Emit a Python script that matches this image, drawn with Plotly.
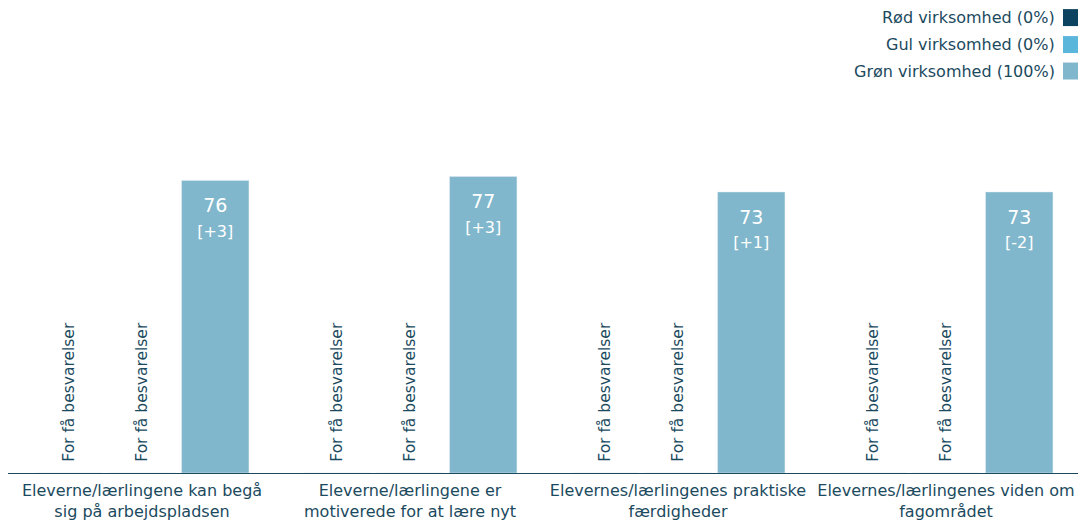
import plotly.graph_objects as go

categories = [
    "Eleverne/lærlingene kan begå<br>sig på arbejdspladsen",
    "Eleverne/lærlingene er<br>motiverede for at lære nyt",
    "Elevernes/lærlingenes praktiske<br>færdigheder",
    "Elevernes/lærlingenes viden om<br>fagområdet",
]
series_names = ["Rød virksomhed (0%)", "Gul virksomhed (0%)", "Grøn virksomhed (100%)"]
red_values = [0, 0, 0, 0]
yellow_values = [0, 0, 0, 0]
green_values = [76, 77, 73, 73]
green_changes = ["+3", "+3", "+1", "-2"]
no_data_label = "For få besvarelser"

colors = ["#0b4360", "#5bb6dc", "#80b7cc"]
text_color = "#1b4a5e"
FONT = "DejaVu Sans"

# page body has an 8px margin: figure origin sits at screen (8, 8)
OFF = 8
W, H = 1086 - OFF, 527 - OFF
L, R = 8 - OFF, 1086 - 1080
T = 87.5 - OFF
B = 527 - 473
PW, PH = W - L - R, H - T - B

fig = go.Figure()
for name, vals, col in [(series_names[0], red_values, colors[0]),
                        (series_names[1], yellow_values, colors[1])]:
    fig.add_trace(go.Bar(
        x=categories, y=vals, name=name, marker_color=col,
        text=["<span style='font-size:13px'>&nbsp;&nbsp;</span>" + no_data_label] * len(vals),
        textposition="outside",
        textangle=-90, cliponaxis=False, constraintext="none",
        outsidetextfont=dict(family=FONT, size=15.5, color=text_color),
        showlegend=False, hoverinfo="skip",
    ))

fig.add_trace(go.Bar(
    x=categories, y=green_values, name=series_names[2], marker_color=colors[2],
    text=[f"<span style='font-size:4.5px'>&nbsp;</span><br>{v}<br><span style='font-size:16px'>[{c}]</span>"
          for v, c in zip(green_values, green_changes)],
    textposition="inside", insidetextanchor="end", textangle=0, constraintext="none",
    insidetextfont=dict(family=FONT, size=19, color="white"),
    showlegend=False, hoverinfo="skip",
))

# legend (text right-aligned, swatch on the right), screen coords
legend_y = [17, 44, 70.5]
for name, col, yy in zip(series_names, colors, legend_y):
    fig.add_annotation(
        xref="paper", yref="paper", x=(1057 - 8) / PW, y=1 + (87.5 - yy) / PH,
        text=name, showarrow=False, xanchor="right", yanchor="middle",
        font=dict(family=FONT, size=16, color=text_color),
    )
    fig.add_shape(
        type="rect", xref="paper", yref="paper",
        x0=(1063 - 8) / PW, x1=(1080 - 8) / PW,
        y0=1 + (87.5 - yy - 8.5) / PH, y1=1 + (87.5 - yy + 8.5) / PH,
        fillcolor=col, line=dict(width=0),
    )

fig.update_layout(
    width=W, height=H,
    margin=dict(l=L, r=R, t=T, b=B, autoexpand=False),
    barmode="group", bargap=0.18, bargroupgap=0.08,
    plot_bgcolor="white", paper_bgcolor="white",
    font=dict(family=FONT, size=16, color=text_color),
)
fig.update_xaxes(showline=True, linecolor=text_color, linewidth=1, ticks="",
                 automargin=False, ticklabelstandoff=3,
                 tickfont=dict(family=FONT, size=16, color=text_color))
fig.update_yaxes(range=[0, 100], visible=False, showgrid=False, automargin=False)

fig.write_html("out.html")
